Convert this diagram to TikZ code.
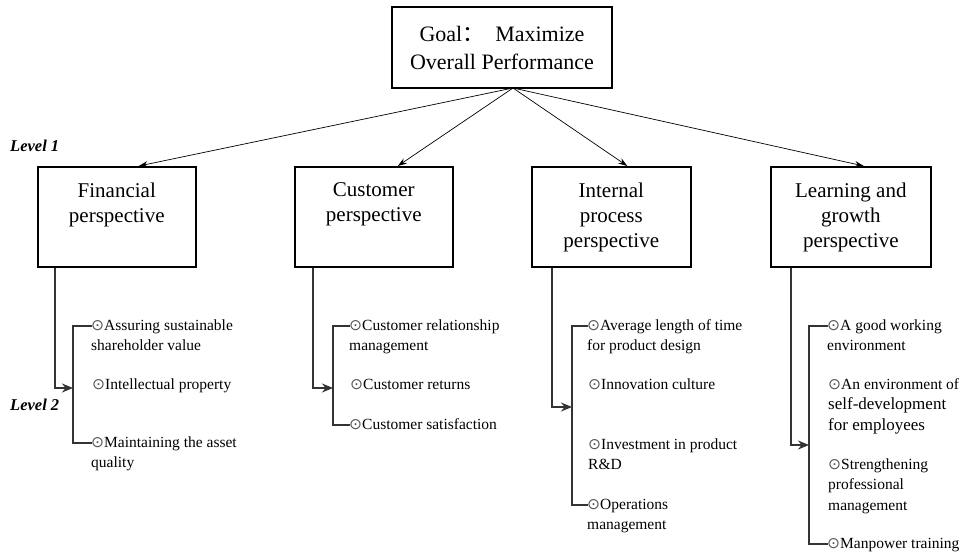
\documentclass[tikz,border=0pt]{standalone}
\usepackage{fontspec}
\setmainfont{Liberation Serif}
\newfontfamily\cjkfont{Noto Sans CJK SC}
\newfontfamily\symfont{DejaVu Sans}
\usetikzlibrary{arrows.meta}
\definecolor{bulgray}{HTML}{555555}
\definecolor{brkgray}{HTML}{333333}
\newcommand\bul{\strut\textcolor{bulgray}{\symfont ⊙}}
\begin{document}
\begin{tikzpicture}[x=1pt,y=-1pt,
  goalbox/.style={draw, line width=1.6pt, minimum width=220pt, minimum height=81pt, inner sep=0pt},
  perspbox/.style={draw, line width=1.6pt, minimum width=158pt, minimum height=100pt, anchor=north west, inner sep=0pt},
  persptext/.style={anchor=north, align=center, inner sep=0pt, font=\fontsize{21}{25}\selectfont},
  itemtext/.style={anchor=north west, align=left, inner sep=0pt, font=\fontsize{15.5}{20.5}\selectfont},
  lvl/.style={font=\fontsize{16.5}{18}\selectfont\bfseries\itshape, anchor=west, inner sep=0pt},
  goalarrow/.style={draw, line width=0.7pt, -{Stealth[length=9pt,width=6pt]}},
  brk/.style={draw=brkgray, line width=1.8pt},
  brkarrow/.style={brk, -{Stealth[length=11pt,width=9pt]}}
]
\useasboundingbox (0,0) rectangle (963,553);

% Goal
\node[goalbox, font=\fontsize{22}{28}\selectfont, align=center] (goal) at (502,47.5)
  {Goal{\cjkfont ：}\ \ Maximize\\Overall Performance};
\coordinate (gs) at (513,88);

% Level labels
\node[lvl] (l1) at (10,146) {Level 1};
\node[lvl] (l2) at (10,405) {Level 2};

% Perspective boxes
\node[perspbox] (fin) at (37,166) {};
\node[perspbox] (cus) at (294,166) {};
\node[perspbox, minimum width=159pt] (int) at (531,166) {};
\node[perspbox, minimum width=160pt] (lrn) at (770,166) {};

\node[persptext] (fint) at ([yshift=-16.5pt]fin.north) {Financial\\perspective};
\node[persptext] (cust) at ([yshift=-16.5pt]cus.north) {Customer\\perspective};
\node[persptext] (intt) at ([yshift=-16.5pt]int.north) {Internal\\process\\perspective};
\node[persptext] (lrnt) at ([yshift=-16.5pt]lrn.north) {Learning and\\growth\\perspective};

% Goal arrows
\draw[goalarrow] (gs) -- ([xshift=22pt]fin.north);
\draw[goalarrow] (gs) -- ([xshift=24pt]cus.north);
\draw[goalarrow] (gs) -- ([xshift=16pt]int.north);
\draw[goalarrow] (gs) -- ([xshift=13pt]lrn.north);

% ---------- Financial ----------
\coordinate (fa) at (73,388);
\coordinate (ft) at (73,326);
\coordinate (fb) at (73,443);
\coordinate (f1) at (92,326);
\coordinate (f3) at (92,443);
\draw[brkarrow] ([xshift=18pt]fin.south west) |- (fa);
\draw[brk] (f1) -- (ft) -- (fb) -- (f3);
\node[itemtext] (fi1) at (91,315.5) {\bul Assuring sustainable\\shareholder value};
\node[itemtext] (fi2) at (92,374.5) {\bul Intellectual property};
\node[itemtext] (fi3) at (91,432.5) {\bul Maintaining the asset\\quality};

% ---------- Customer ----------
\coordinate (ca) at (333,388);
\coordinate (ct) at (333,326);
\coordinate (cb) at (333,425);
\coordinate (c1) at (350,326);
\coordinate (c3) at (350,425);
\draw[brkarrow] ([xshift=19pt]cus.south west) |- (ca);
\draw[brk] (c1) -- (ct) -- (cb) -- (c3);
\node[itemtext] (ci1) at (349,315.5) {\bul Customer relationship\\management};
\node[itemtext] (ci2) at (350,374.5) {\bul Customer returns};
\node[itemtext] (ci3) at (349,414.5) {\bul Customer satisfaction};

% ---------- Internal process ----------
\coordinate (ia) at (572,407);
\coordinate (it) at (572,326);
\coordinate (ib) at (572,505);
\coordinate (i1) at (588,326);
\coordinate (i4) at (588,505);
\draw[brkarrow] ([xshift=21pt]int.south west) |- (ia);
\draw[brk] (i1) -- (it) -- (ib) -- (i4);
\node[itemtext] (ii1) at (587,315.5) {\bul Average length of time\\for product design};
\node[itemtext] (ii2) at (588,374.5) {\bul Innovation culture};
\node[itemtext] (ii3) at (588,434.5) {\bul Investment in product\\R\&D};
\node[itemtext] (ii4) at (587,494.5) {\bul Operations\\management};

% ---------- Learning and growth ----------
\coordinate (la) at (809,445);
\coordinate (lt) at (809,326);
\coordinate (lb) at (809,544);
\coordinate (l1c) at (828,326);
\coordinate (l4c) at (828,544);
\draw[brkarrow] ([xshift=21pt]lrn.south west) |- (la);
\draw[brk] (l1c) -- (lt) -- (lb) -- (l4c);
\node[itemtext] (li1) at (827,315.5) {\bul A good working\\environment};
\node[itemtext] (li2) at (828,374.5) {\bul An environment of\\{\fontsize{17}{21.5}\selectfont self-development}\\{\fontsize{17}{21.5}\selectfont for employees}};
\node[itemtext] (li3) at (828,454.5) {\bul Strengthening\\professional\\management};
\node[itemtext] (li4) at (827,533.5) {\bul Manpower training};
\end{tikzpicture}
\end{document}
